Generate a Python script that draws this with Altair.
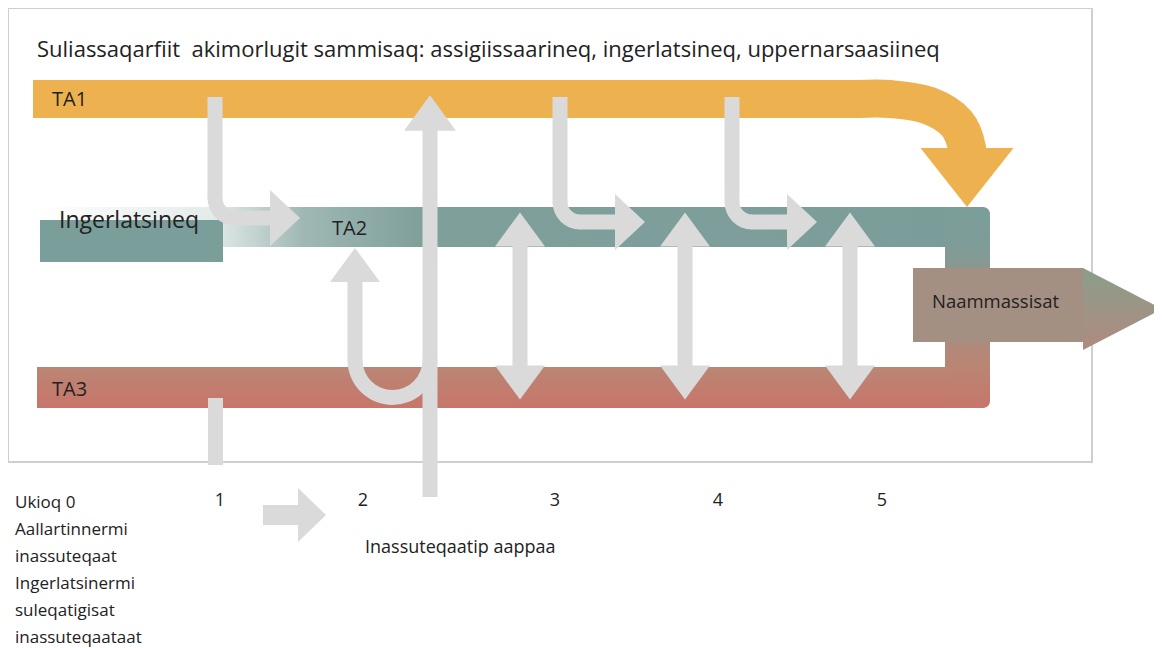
import altair as alt
import pandas as pd

# ---------------- diagram data (reference pixel space) ----------------
# frame
frame_x = [8, 1092]
frame_y = [8, 462]

# coloured flow bands: name, x-left, x-right, y-top, y-bottom
band_names = ["TA1", "TA2", "Ingerlatsineq", "TA3", "connector", "Naammassisat"]
band_x1 = [33, 35, 40, 37, 945, 913]
band_x2 = [862, 960, 223, 960, 990, 1083]
band_y1 = [80, 207, 220, 367, 207, 268]
band_y2 = [118, 247, 262, 408, 408, 342]

# TA1 bend (centre-line points of the smooth turn down into TA2)
ta1_bend_x = [858, 890, 928.5, 956.7, 967, 967]
ta1_bend_y = [99, 99, 105.6, 123.5, 148, 160]

# gray bent arrows from TA1 into TA2 (steps 1, 3, 4)
bend_x = [215, 560, 732]
bend_y = [218, 222, 222]

# double-headed vertical arrows TA2 <-> TA3 (steps 3, 4, 5)
double_x = [520, 685, 850]

# step labels on the bottom
step_labels = ["1", "2", "3", "4", "5"]
step_x = [220, 363, 555, 718, 882]
left_lines = ["Ukioq 0", "Aallartinnermi", "inassuteqaat", "Ingerlatsinermi",
              "suleqatigisat", "inassuteqaataat"]

title_text = "Suliassaqarfiit\u00a0 akimorlugit sammisaq: assigiissaarineq, ingerlatsineq, uppernarsaasiineq"

GRAY = "#DADADA"
ORANGE = "#EDB24F"
FONT = "Open Sans"
TXT = "#222222"

XS = alt.Scale(domain=[8, 1154], nice=False, zero=False)
YS = alt.Scale(domain=[8, 648], nice=False, zero=False, reverse=True)


def rect_layer(df, **mk):
    return alt.Chart(df).mark_rect(**mk).encode(
        x=alt.X("x:Q", scale=XS, axis=None), x2="x2:Q",
        y=alt.Y("y:Q", scale=YS, axis=None), y2="y2:Q")


def pt_enc(ch):
    return ch.encode(x=alt.X("x:Q", scale=XS, axis=None),
                     y=alt.Y("y:Q", scale=YS, axis=None))


def lin(stops, vertical=False):
    return {"gradient": "linear", "x1": 0, "y1": 0,
            "x2": 0 if vertical else 1, "y2": 1 if vertical else 0,
            "stops": [{"offset": o, "color": c} for o, c in stops]}


layers = []

# frame
layers.append(rect_layer(pd.DataFrame({"x": [frame_x[0]], "x2": [frame_x[1]],
                                       "y": [frame_y[0]], "y2": [frame_y[1]]}),
                         fill="#FFFFFF", stroke="#CFCFCF", strokeWidth=2))

bands = pd.DataFrame({"name": band_names, "x": band_x1, "x2": band_x2,
                      "y": band_y1, "y2": band_y2})


def band(name):
    return bands[bands["name"] == name]


layers.append(rect_layer(band("TA1"), fill=ORANGE))
layers.append(rect_layer(band("TA2"), fill=lin([(0, "#FFFFFF"), (0.19, "#E3ECEA"),
                                                (0.29, "#9FB8B4"), (0.42, "#7F9F9B"),
                                                (1, "#7B9D99")])))
layers.append(rect_layer(band("TA3"), fill=lin([(0, "#BA8674"), (1, "#C8756A")], vertical=True)))
layers.append(rect_layer(band("connector"),
                         fill=lin([(0, "#7B9E9A"), (0.2, "#7F9C97"), (0.8, "#BB8573"),
                                   (1, "#C6766A")], vertical=True),
                         cornerRadiusTopRight=7, cornerRadiusBottomRight=7))
layers.append(rect_layer(band("Ingerlatsineq"), fill="#7A9E9A"))

# TA1 smooth bend and head
layers.append(alt.Chart(pd.DataFrame({"x": ta1_bend_x, "y": ta1_bend_y,
                                      "i": list(range(len(ta1_bend_x)))})).mark_line(
    interpolate="catmull-rom", strokeWidth=38, strokeCap="butt", color=ORANGE).encode(
    x=alt.X("x:Q", scale=XS, axis=None), y=alt.Y("y:Q", scale=YS, axis=None),
    order="i:Q"))
layers.append(pt_enc(alt.Chart(pd.DataFrame({"x": [967], "y": [177.5]})).mark_point(
    shape="M -1 -0.634 L 1 -0.634 L 0 0.634 Z", size=8649, filled=True, fill=ORANGE,
    opacity=1, strokeWidth=0)))

# Naammassisat box and output arrow
layers.append(rect_layer(band("Naammassisat"), fill="#A39083"))
layers.append(pt_enc(alt.Chart(pd.DataFrame({"x": [1122.5], "y": [309]})).mark_point(
    shape="M -1 -1.04 L 1 0 L -1 1.04 Z", size=6241, filled=True,
    fill=lin([(0, "#8A9E8A"), (1, "#B08A80")], vertical=True), opacity=1, strokeWidth=0)))

# ---------- gray arrows ----------
gx, gx2, gy, gy2 = [], [], [], []
for bx, by in zip(bend_x, bend_y):
    gx += [bx - 7.5, bx + 19]
    gx2 += [bx + 7.5, bx + 56]
    gy += [97, by - 7.5]
    gy2 += [by - 19, by + 7.5]
for dx in double_x:
    gx.append(dx - 7.5); gx2.append(dx + 7.5); gy.append(245); gy2.append(368)
# U-turn left leg, long up arrow, step-1 stub, bottom arrow shaft
gx += [347.5, 422.5, 208, 263]
gx2 += [362.5, 437.5, 223, 300]
gy += [280, 128, 398, 505]
gy2 += [361, 497, 465, 525]
layers.append(rect_layer(pd.DataFrame({"x": gx, "x2": gx2, "y": gy, "y2": gy2}), fill=GRAY))

# bends (quarter rings)
layers.append(pt_enc(alt.Chart(pd.DataFrame({"x": [b + 20 for b in bend_x],
                                             "y": [b - 20 for b in bend_y]})).mark_arc(
    radius=27.5, radius2=12.5, theta=3.1416, theta2=4.7124, fill=GRAY)))
# U-turn bottom (half ring)
layers.append(pt_enc(alt.Chart(pd.DataFrame({"x": [392.5], "y": [360]})).mark_arc(
    radius=45, radius2=30, theta=1.5708, theta2=4.7124, fill=GRAY)))

UP = "M -1 0.68 L 0 -0.68 L 1 0.68 Z"
DOWN = "M -1 -0.68 L 0 0.68 L 1 -0.68 Z"
RIGHT = "M -1 -1.87 L 1 0 L -1 1.87 Z"
RIGHT2 = "M -1 -1.93 L 1 0 L -1 1.93 Z"
hx, hy, hs, hz = [], [], [], []
for bx, by in zip(bend_x, bend_y):
    hx.append(bx + 70); hy.append(by); hs.append(RIGHT); hz.append(900)
for dx in double_x:
    hx += [dx, dx]; hy += [229.5, 382.5]; hs += [UP, DOWN]; hz += [2500, 2500]
hx += [355, 430, 312]
hy += [265, 113, 515]
hs += [UP, UP, RIGHT2]
hz += [2500, 2704, 784]
layers.append(alt.Chart(pd.DataFrame({"x": hx, "y": hy, "s": hs, "z": hz})).mark_point(
    filled=True, fill=GRAY, opacity=1, strokeWidth=0).encode(
    x=alt.X("x:Q", scale=XS, axis=None), y=alt.Y("y:Q", scale=YS, axis=None),
    shape=alt.Shape("s:N", scale=None), size=alt.Size("z:Q", scale=None)))

# ---------- texts ----------
tx = [37, 52, 59, 332, 52, 932, 365] + [15] * len(left_lines)
ty = [50, 100, 221, 229, 390, 302, 548] + [503 + 27 * i for i in range(len(left_lines))]
tt = [title_text, "TA1", "Ingerlatsineq", "TA2", "TA3", "Naammassisat",
      "Inassuteqaatip aappaa"] + left_lines
tf = [22, 20, 23, 20, 20, 18.5, 18] + [17] * len(left_lines)
layers.append(alt.Chart(pd.DataFrame({"x": tx, "y": ty, "t": tt, "f": tf})).mark_text(
    align="left", baseline="middle", font=FONT, color=TXT).encode(
    x=alt.X("x:Q", scale=XS, axis=None), y=alt.Y("y:Q", scale=YS, axis=None),
    text="t:N", size=alt.Size("f:Q", scale=None)))
layers.append(alt.Chart(pd.DataFrame({"x": step_x, "y": [501] * 5, "t": step_labels})).mark_text(
    align="center", baseline="middle", font=FONT, color=TXT, fontSize=18).encode(
    x=alt.X("x:Q", scale=XS, axis=None), y=alt.Y("y:Q", scale=YS, axis=None), text="t:N"))

chart = alt.layer(*layers).properties(
    width=1146, height=640,
    autosize=alt.AutoSizeParams(type="none"), padding=0,
).configure_view(stroke=None)

chart.save("out.html", embed_options={"renderer": "svg", "actions": False})
